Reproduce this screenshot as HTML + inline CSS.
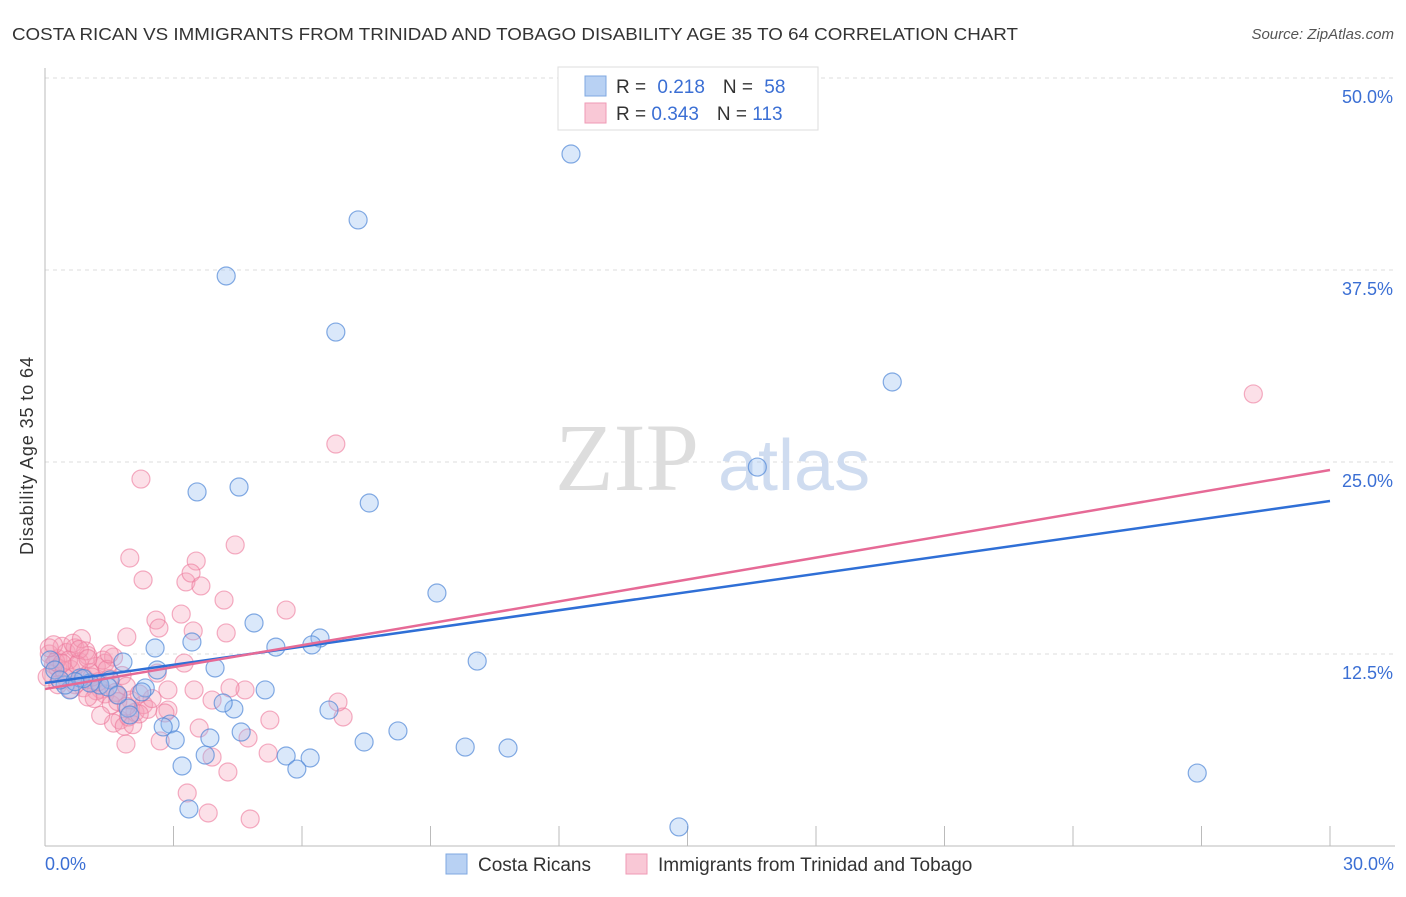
<!DOCTYPE html>
<html><head><meta charset="utf-8"><style>
body{margin:0;background:#fff;font-family:"Liberation Sans",sans-serif;}
svg text{font-family:"Liberation Sans",sans-serif;}
</style></head><body>
<svg id="chart" width="1406" height="892" viewBox="0 0 1406 892">
<text x="12" y="40" font-size="17.5" fill="#333" textLength="1006" lengthAdjust="spacingAndGlyphs">COSTA RICAN VS IMMIGRANTS FROM TRINIDAD AND TOBAGO DISABILITY AGE 35 TO 64 CORRELATION CHART</text>
<text x="1394" y="39" font-size="15" fill="#555" text-anchor="end" font-style="italic">Source: ZipAtlas.com</text>
<g id="grid"></g>
<text x="555" y="490" font-size="96" fill="#ddd" style="font-family:'Liberation Serif',serif">ZIP</text>
<text x="718" y="490" font-size="72" fill="#cfdcf0">atlas</text>
<g id="pts"></g>
<g id="lines"></g>
<text transform="translate(33,456) rotate(-90)" font-size="18" fill="#333" text-anchor="middle" textLength="198">Disability Age 35 to 64</text>
<text x="45" y="870" font-size="18" fill="#3b6fd4">0.0%</text>
<text x="1394" y="870" font-size="18" fill="#3b6fd4" text-anchor="end">30.0%</text>
<g>
<rect x="558" y="67" width="260" height="63" fill="#fff" stroke="#ddd"/>
<rect x="585" y="76" width="21" height="20" fill="#b8d1f3" stroke="#7fa8e0"/>
<rect x="585" y="103" width="21" height="20" fill="#f9c8d6" stroke="#ef9ab5"/>
<text x="616" y="93" font-size="19" fill="#333">R = <tspan fill="#3b6fd4" dx="6">0.218</tspan><tspan fill="#333" dx="18">N = </tspan><tspan fill="#3b6fd4" dx="6">58</tspan></text>
<text x="616" y="120" font-size="19" fill="#333">R = <tspan fill="#3b6fd4">0.343</tspan><tspan fill="#333" dx="18">N = </tspan><tspan fill="#3b6fd4">113</tspan></text>
</g>
<g>
<rect x="446" y="854" width="21" height="20" fill="#b8d1f3" stroke="#7fa8e0"/>
<text x="478" y="871" font-size="19" fill="#333">Costa Ricans</text>
<rect x="626" y="854" width="21" height="20" fill="#f9c8d6" stroke="#ef9ab5"/>
<text x="658" y="871" font-size="19" fill="#333">Immigrants from Trinidad and Tobago</text>
</g>
</svg>
<script>
const yTicks=[12.5,25,37.5,50];
const yTickLabels=["12.5%","25.0%","37.5%","50.0%"];
const xTicks=[0,3,6,9,12,15,18,21,24,27,30];
const blueX=[12.28,7.31,4.23,6.79,19.78,16.63,3.55,4.53,7.57,9.15,4.88,6.42,6.23,5.39,10.09,3.43,2.57,3.97,1.82,2.62,2.34,5.14,2.26,1.52,1.28,0.58,0.47,0.82,1.05,1.47,4.41,4.16,6.63,1.94,2.92,2.76,3.85,4.58,8.24,7.45,9.81,10.81,3.74,5.63,6.19,5.88,3.2,26.9,3.36,14.8,0.12,0.23,0.35,1.98,3.04,1.7,0.9,0.7];
const blueY=[45.05,40.76,37.11,33.46,30.21,24.67,23.05,23.37,22.33,16.47,14.52,13.54,13.09,12.95,12.04,13.28,12.89,11.59,11.98,11.46,10.29,10.16,10.03,10.81,10.48,10.16,10.48,10.94,10.61,10.35,8.92,9.31,8.85,8.98,7.94,7.75,7.03,7.42,7.49,6.77,6.44,6.38,5.92,5.86,5.73,5.01,5.21,4.75,2.41,1.24,12.11,11.46,10.81,8.53,6.9,9.83,10.9,10.7];
const pinkX=[28.21,6.79,2.24,1.98,4.44,3.53,2.29,3.29,3.41,3.64,4.18,2.59,3.18,2.66,5.63,1.91,3.46,4.23,3.32,3.81,4.79,4.27,3.9,5.21,1.89,2.69,4.74,6.96,5.25,6.84,2.87,2.8,3.6,3.9,4.67,4.32,3.48,2.87,2.62,3.25,
0.1,0.2,0.3,0.15,0.4,0.5,0.6,0.7,0.8,0.9,1.0,1.1,1.2,1.3,1.4,1.5,1.6,1.7,1.8,1.9,2.0,2.1,1.75,1.6,1.85,1.95,2.05,1.4,1.2,0.9,0.7,0.5,0.3,0.25,0.35,0.45,0.55,0.65,0.85,0.95,1.05,1.15,1.25,1.35,1.45,1.55,1.65,1.7,0.75,0.6,1.0,2.3,2.4,2.5,2.2,1.9,1.3,0.05,0.1,0.2,0.4,1.5,1.1,0.8,0.3,2.2,1.0];
const pinkY=[29.43,26.17,23.89,18.75,19.6,18.55,17.32,17.19,17.77,16.93,16.01,14.71,15.1,14.19,15.36,13.61,14.0,13.87,3.45,2.15,1.76,4.82,5.79,6.05,6.64,6.84,7.03,8.4,8.2,9.37,8.85,8.66,7.68,9.5,10.16,10.29,10.16,10.16,11.26,11.91,
12.5,11.8,12.2,11.2,13.0,12.6,11.5,12.9,12.0,11.0,12.4,10.6,11.7,10.2,11.9,10.9,12.3,9.8,11.1,10.4,9.5,8.7,8.2,8.0,7.8,8.4,7.9,9.9,10.1,10.3,10.5,10.9,11.6,12.0,10.8,11.4,12.1,13.2,13.5,12.7,11.3,9.6,10.7,12.1,11.5,9.2,10.0,9.4,11.8,10.2,9.7,9.2,8.9,9.6,8.6,9.1,8.5,11.0,12.9,13.1,11.9,12.5,11.0,12.8,10.5,9.9,12.2];
const blueTrend=[10.61,22.46];
const pinkTrend=[10.22,24.48];
const X0=45,X1=1330,YB=846,YT=78;
const sx=v=>X0+(v/30)*(X1-X0);
const sy=v=>YB-(v/50)*(YB-YT);
const NS="http://www.w3.org/2000/svg";
function mk(t,a,p){const e=document.createElementNS(NS,t);for(const k in a)e.setAttribute(k,a[k]);p.appendChild(e);return e;}
const grid=document.getElementById('grid');
yTicks.forEach((v,i)=>{
 const l=mk('line',{x1:45,x2:1395,y1:sy(v),y2:sy(v),stroke:'#ddd','stroke-dasharray':'4,4'},grid);
 
 
 const t=mk('text',{x:1393,y:sy(v)+25,'font-size':18,fill:'#3b6fd4','text-anchor':'end'},grid);
 t.textContent=yTickLabels[i];
 
 
});
const ax=mk('line',{x1:45,x2:45,y1:68,y2:846,stroke:'#bbb'},grid);


const bx=mk('line',{x1:45,x2:1395,y1:846,y2:846,stroke:'#bbb'},grid);


xTicks.forEach(v=>{
 const t=mk('line',{x1:sx(v),x2:sx(v),y1:826,y2:846,stroke:'#bbb'},grid);
 
 
});
const pts=document.getElementById('pts');
pinkX.forEach((x,i)=>{
 const c=mk('circle',{cx:sx(x),cy:sy(pinkY[i]),r:9,fill:'rgba(245,160,185,0.32)',stroke:'rgba(236,120,155,0.6)','stroke-width':1.2},pts);
 
 
});
blueX.forEach((x,i)=>{
 const c=mk('circle',{cx:sx(x),cy:sy(blueY[i]),r:9,fill:'rgba(150,190,240,0.35)',stroke:'rgba(80,135,215,0.7)','stroke-width':1.2},pts);
 
 
});
const lines=document.getElementById('lines');
const lb=mk('line',{x1:sx(0),y1:sy(blueTrend[0]),x2:sx(30),y2:sy(blueTrend[1]),stroke:'#2f6fd6','stroke-width':2.5},lines);


const lp=mk('line',{x1:sx(0),y1:sy(pinkTrend[0]),x2:sx(30),y2:sy(pinkTrend[1]),stroke:'#e66a96','stroke-width':2.5},lines);


</script>
</body></html>
